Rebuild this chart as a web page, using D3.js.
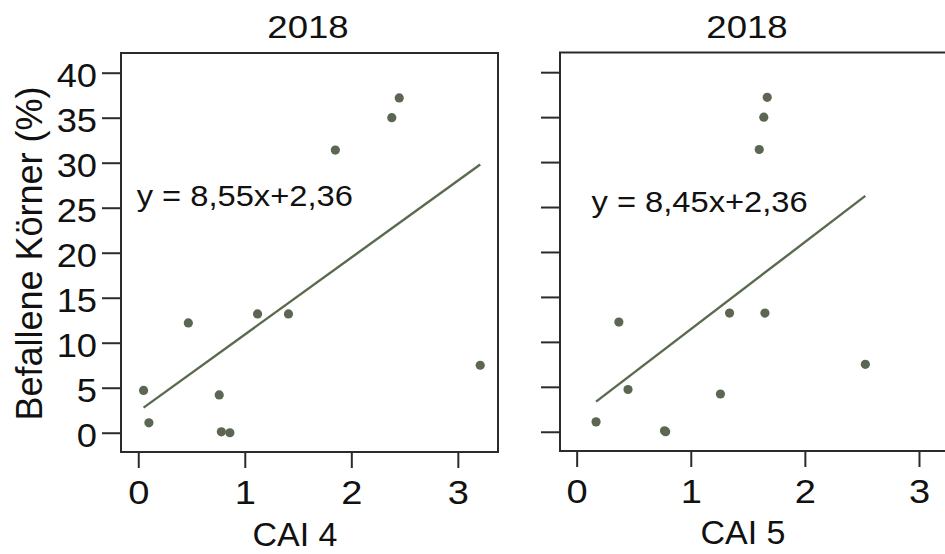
<!DOCTYPE html>
<html>
<head>
<meta charset="utf-8">
<script src="https://cdn.jsdelivr.net/npm/d3@7"></script>
<style>
  body { margin: 0; background: #fff; }
  svg { display: block; font-family: "Liberation Sans", Arial, sans-serif; }
</style>
</head>
<body>
<div id="chart"></div>
<script>
// data
const panelTitles = ['2018', '2018'];
const xTitles = ['CAI 4', 'CAI 5'];
const yTitle = 'Befallene Körner (%)';
const yTicks = [0, 5, 10, 15, 20, 25, 30, 35, 40];
const xTicks = [0, 1, 2, 3];

// befallene Körner (%) per sample, same order for both indices
const infected = [4.7, 1.1, 12.2, 4.2, 0.1, 0.0, 13.2, 13.2, 31.4, 35.0, 37.2, 7.5];
const cai4 = [0.05, 0.10, 0.47, 0.76, 0.78, 0.86, 1.12, 1.41, 1.85, 2.38, 2.45, 3.21];
const cai5 = [0.45, 0.17, 0.37, 1.26, 0.77, 0.78, 1.34, 1.65, 1.60, 1.64, 1.67, 2.53];

// regression lines as drawn, and their printed equations
const fitSlope = [8.55, 9.7];
const fitIntercept = [2.36, 1.7];
const fitLabels = ['y = 8,55x+2,36', 'y = 8,45x+2,36'];
const fitLabelPos = [[-0.015, 25.2], [0.13, 24.4]];

const width = 945;
const height = 554;
const pointColor = '#5b6753';
const lineColor = '#5a6a4e';
const axisColor = '#2b2b2b';

const panels = [
  { left: 121, right: 498, top: 53, bottom: 452, xMin: -0.162, xMax: 3.377, xs: cai4, showY: true, titleDx: 187, xTitleDx: 174, xTitleY: 546 },
  { left: 560, right: 962, top: 52.5, bottom: 451, xMin: -0.146, xMax: 3.377, xs: cai5, showY: false, titleDx: 187, xTitleDx: 183, xTitleY: 544 },
];

const svg = d3.select('#chart')
  .append('svg')
  .attr('width', width)
  .attr('height', height);

svg.append('rect')
  .attr('width', width)
  .attr('height', height)
  .attr('fill', '#fff');

// stretch text horizontally a bit, the source glyphs are wider than Arial
const stretch = (sel, sx) => sel.each(function () {
  const t = d3.select(this);
  const x = +t.attr('x') || 0;
  t.attr('x', x / sx).attr('transform', `scale(${sx},1)`);
});

panels.forEach((p, i) => {
  const x = d3.scaleLinear().domain([p.xMin, p.xMax]).range([p.left, p.right]);
  const y = d3.scaleLinear().domain([-2.14, 42.19]).range([p.bottom, p.top]);

  const g = svg.append('g').attr('class', `panel panel-${i}`);

  // y axis
  const gy = g.append('g')
    .attr('transform', `translate(${p.left},0)`)
    .call(d3.axisLeft(y)
      .tickValues(yTicks)
      .tickSize(19)
      .tickPadding(5)
      .tickFormat(p.showY ? d3.format('d') : () => ''));
  gy.select('.domain').remove();
  gy.selectAll('line').attr('stroke', axisColor).attr('stroke-width', 2);
  gy.selectAll('text')
    .attr('fill', '#111')
    .attr('font-size', 33)
    .attr('font-family', null)
    .attr('dy', '0.415em');
  stretch(gy.selectAll('text'), 1.1);

  // x axis
  const gx = g.append('g')
    .attr('transform', `translate(0,${p.bottom})`)
    .call(d3.axisBottom(x)
      .tickValues(xTicks)
      .tickSize(16)
      .tickFormat(d3.format('d')));
  gx.select('.domain').remove();
  gx.selectAll('line').attr('stroke', axisColor).attr('stroke-width', 2);
  gx.selectAll('text')
    .attr('fill', '#111')
    .attr('font-size', 34)
    .attr('font-family', null)
    .attr('y', 52)
    .attr('dy', 0);
  stretch(gx.selectAll('text'), 1.12);

  // box
  g.append('rect')
    .attr('x', p.left)
    .attr('y', p.top)
    .attr('width', p.right - p.left)
    .attr('height', p.bottom - p.top)
    .attr('fill', 'none')
    .attr('stroke', axisColor)
    .attr('stroke-width', 2);

  // regression line across the data range
  const ext = d3.extent(p.xs);
  g.append('path')
    .attr('fill', 'none')
    .attr('stroke', lineColor)
    .attr('stroke-width', 2.4)
    .attr('d', d3.line()
      .x((d) => x(d))
      .y((d) => y(fitSlope[i] * d + fitIntercept[i]))(ext));

  // points
  g.append('g')
    .selectAll('circle')
    .data(p.xs.map((v, j) => [v, infected[j]]))
    .join('circle')
    .attr('cx', (d) => x(d[0]))
    .attr('cy', (d) => y(d[1]))
    .attr('r', 4.6)
    .attr('fill', pointColor);

  // equation
  g.append('text')
    .attr('transform', `translate(${x(fitLabelPos[i][0])},${y(fitLabelPos[i][1])}) scale(1.09,1)`)
    .attr('font-size', 30)
    .attr('fill', '#111')
    .text(fitLabels[i]);

  // titles
  g.append('text')
    .attr('transform', `translate(${p.left + p.titleDx},37.5) scale(1.18,1)`)
    .attr('text-anchor', 'middle')
    .attr('font-size', 31)
    .attr('fill', '#111')
    .text(panelTitles[i]);

  g.append('text')
    .attr('transform', `translate(${p.left + p.xTitleDx},${p.xTitleY})`)
    .attr('text-anchor', 'middle')
    .attr('font-size', 34)
    .attr('fill', '#111')
    .text(xTitles[i]);
});

svg.append('text')
  .attr('transform', 'translate(42,253.5) rotate(-90)')
  .attr('text-anchor', 'middle')
  .attr('font-size', 36)
  .attr('fill', '#111')
  .text(yTitle);
</script>
</body>
</html>
